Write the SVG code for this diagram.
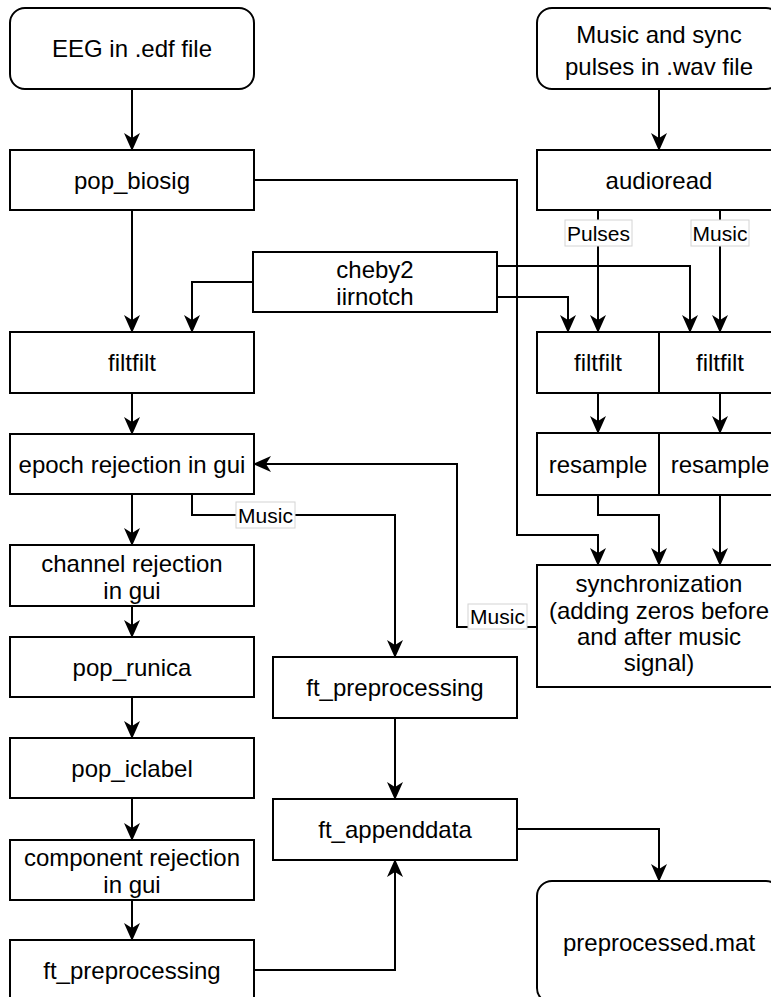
<svg xmlns="http://www.w3.org/2000/svg" width="771" height="997" viewBox="0 0 771 997">
<style>
.b{fill:#fff;stroke:#000;stroke-width:2}
.t{font-family:"Liberation Sans",Arial,sans-serif;font-size:24px;fill:#000;text-anchor:middle;dominant-baseline:central}
.c{fill:none;stroke:#000;stroke-width:2;marker-end:url(#a)}
.lb{fill:#fff;stroke:#d4d4d4;stroke-width:1}
.lt{font-family:"Liberation Sans",Arial,sans-serif;font-size:21px;fill:#000;text-anchor:middle;dominant-baseline:central}
</style>
<defs>
<marker id="a" viewBox="0 0 18 16" refX="17" refY="8" markerWidth="18" markerHeight="16" markerUnits="userSpaceOnUse" orient="auto">
<path d="M18,8 L0,0 L5,8 L0,16 Z" fill="#000"/>
</marker>
</defs>
<rect width="771" height="997" fill="#fff"/>
<g id="connectors">
<path class="c" d="M132,89 V150"/>
<path class="c" d="M659,89 V150"/>
<path class="c" d="M132,210 V332"/>
<path class="c" d="M254,180 H517 V535 H598 V565"/>
<path class="c" d="M253,282 H192 V332"/>
<path class="c" d="M497,266 H690 V332"/>
<path class="c" d="M497,297 H568 V332"/>
<path class="c" d="M598,210 V332"/>
<path class="c" d="M720,210 V332"/>
<path class="c" d="M598,393 V433"/>
<path class="c" d="M720,393 V433"/>
<path class="c" d="M598,495 V515 H659 V565"/>
<path class="c" d="M720,495 V565"/>
<path class="c" d="M537,627 H457 V464 H254"/>
<path class="c" d="M132,393 V434"/>
<path class="c" d="M132,494 V545"/>
<path class="c" d="M192,494 V515 H395 V657"/>
<path class="c" d="M132,606 V637"/>
<path class="c" d="M132,697 V738"/>
<path class="c" d="M132,798 V840"/>
<path class="c" d="M132,900 V940"/>
<path class="c" d="M395,718 V799"/>
<path class="c" d="M254,970 H395 V860"/>
<path class="c" d="M517,829 H659 V881"/>
<g id="labels">
<rect class="lb" x="565" y="220" width="67" height="26"/>
<text class="lt" x="598.5" y="233">Pulses</text>
<rect class="lb" x="691" y="220" width="58" height="26"/>
<text class="lt" x="720" y="233">Music</text>
<rect class="lb" x="236" y="502" width="59" height="26"/>
<text class="lt" x="265.5" y="515">Music</text>
<rect class="lb" x="468" y="604" width="59" height="25"/>
<text class="lt" x="497.5" y="616.5">Music</text>
</g>
</g>
<g id="eeg"><rect class="b" x="10" y="8" width="244" height="81" rx="15"/><text class="t" x="132" y="48.5">EEG in .edf file</text></g>
<g id="wav"><rect class="b" x="537" y="8" width="244" height="81" rx="15"/><text class="t" x="659" y="48.5"><tspan x="659" dy="-15">Music and sync</tspan><tspan x="659" dy="32">pulses in .wav file</tspan></text></g>
<g id="pop_biosig"><rect class="b" x="10" y="150" width="244" height="60"/><text class="t" x="132" y="180">pop_biosig</text></g>
<g id="audioread"><rect class="b" x="537" y="150" width="244" height="60"/><text class="t" x="659" y="180">audioread</text></g>
<g id="cheby2"><rect class="b" x="253" y="252" width="244" height="60"/><text class="t" x="375" y="282"><tspan x="375" dy="-13">cheby2</tspan><tspan x="375" dy="27">iirnotch</tspan></text></g>
<g id="filtfilt_l"><rect class="b" x="10" y="332" width="244" height="61"/><text class="t" x="132" y="362.5">filtfilt</text></g>
<g id="filtfilt_p"><rect class="b" x="537" y="332" width="122" height="61"/><text class="t" x="598" y="362.5">filtfilt</text></g>
<g id="filtfilt_m"><rect class="b" x="659" y="332" width="122" height="61"/><text class="t" x="720" y="362.5">filtfilt</text></g>
<g id="epoch"><rect class="b" x="10" y="434" width="244" height="60"/><text class="t" x="132" y="464">epoch rejection in gui</text></g>
<g id="resample_p"><rect class="b" x="537" y="433" width="122" height="62"/><text class="t" x="598" y="464">resample</text></g>
<g id="resample_m"><rect class="b" x="659" y="433" width="122" height="62"/><text class="t" x="720" y="464">resample</text></g>
<g id="sync"><rect class="b" x="537" y="565" width="244" height="122"/><text class="t" x="659" y="622"><tspan x="659" dy="-39">synchronization</tspan><tspan x="659" dy="26.5">(adding zeros before</tspan><tspan x="659" dy="26">and after music</tspan><tspan x="659" dy="26">signal)</tspan></text></g>
<g id="channel"><rect class="b" x="10" y="545" width="244" height="61"/><text class="t" x="132" y="575.5"><tspan x="132" dy="-13">channel rejection</tspan><tspan x="132" dy="27">in gui</tspan></text></g>
<g id="pop_runica"><rect class="b" x="10" y="637" width="244" height="60"/><text class="t" x="132" y="667">pop_runica</text></g>
<g id="ft_prep_m"><rect class="b" x="273" y="657" width="244" height="61"/><text class="t" x="395" y="687.5">ft_preprocessing</text></g>
<g id="pop_iclabel"><rect class="b" x="10" y="738" width="244" height="60"/><text class="t" x="132" y="768">pop_iclabel</text></g>
<g id="ft_appenddata"><rect class="b" x="273" y="799" width="244" height="61"/><text class="t" x="395" y="829.5">ft_appenddata</text></g>
<g id="component"><rect class="b" x="10" y="840" width="244" height="60"/><text class="t" x="132" y="870"><tspan x="132" dy="-13">component rejection</tspan><tspan x="132" dy="27">in gui</tspan></text></g>
<g id="ft_prep_l"><rect class="b" x="10" y="940" width="244" height="61"/><text class="t" x="132" y="970.5">ft_preprocessing</text></g>
<g id="preprocessed"><rect class="b" x="537" y="881" width="244" height="122" rx="15"/><text class="t" x="659" y="942">preprocessed.mat</text></g>
</svg>
